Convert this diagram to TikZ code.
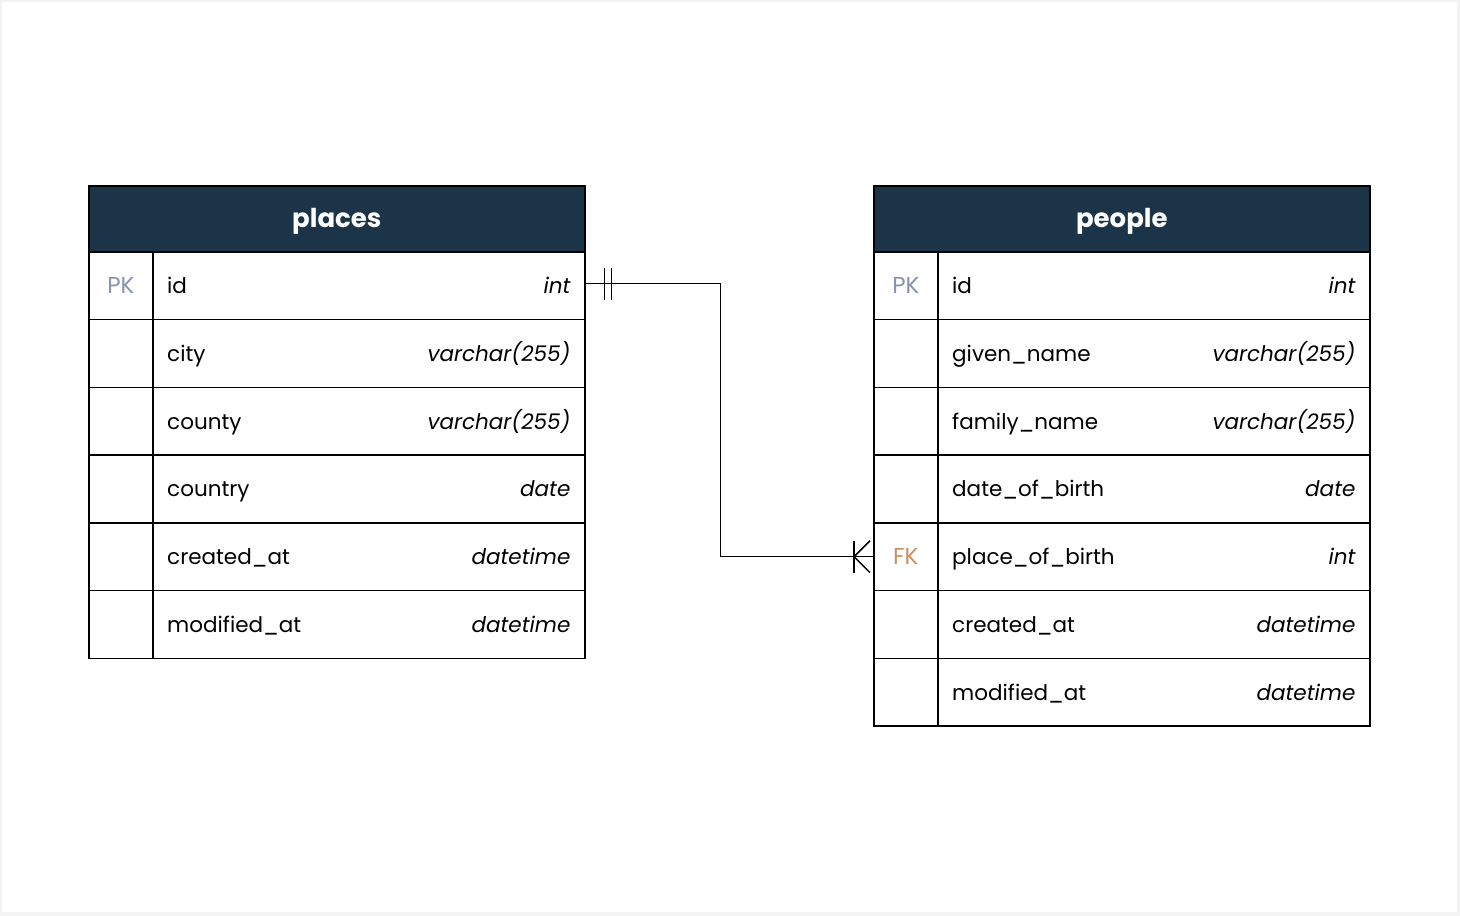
\documentclass[tikz,border=0pt]{standalone}
\usepackage{fontspec}
\setmainfont{Poppins}
\definecolor{hdrblue}{RGB}{27,52,71}
\definecolor{pkcol}{RGB}{136,146,178}
\definecolor{fkcol}{RGB}{204,146,92}
\definecolor{bggray}{RGB}{243,243,243}
\tikzset{
  x=1pt, y=-1pt,
  tbl/.style={draw=black, line width=1.6pt},
  hdr/.style={tbl, fill=hdrblue, minimum width=496pt, minimum height=66pt, inner sep=0pt, anchor=north west},
  hdrtxt/.style={inner sep=0pt, anchor=base, text=white, font=\fontsize{26}{30}\selectfont\bfseries},
  keycell/.style={tbl, minimum width=64pt, minimum height=67.75pt, inner sep=0pt, anchor=north west},
  keytxt/.style={inner sep=0pt, anchor=base, font=\fontsize{23}{27}\selectfont},
  namecell/.style={tbl, minimum width=432pt, minimum height=67.75pt, inner sep=0pt, anchor=north west},
  nametxt/.style={inner sep=0pt, anchor=base west, font=\fontsize{21.5}{25}\selectfont},
  typetxt/.style={inner sep=0pt, anchor=base east, font=\fontsize{21.5}{25}\selectfont\itshape},
  conn/.style={draw=black, line width=1.5pt},
}
\newcommand\erow[7]{%
  \pgfmathsetmacro\ytop{251+(#2-1)*67.75}
  \node[keycell] (#1k#2) at (#3,\ytop) {};
  \node[keytxt, text=#5] (#1kt#2) at ([yshift=-8pt]#1k#2.center) {#4};
  \node[namecell] (#1r#2) at (#3+64,\ytop) {};
  \node[nametxt] (#1n#2) at ([xshift=15pt,yshift=-8pt]#1r#2.west) {#6};
  \node[typetxt] (#1t#2) at ([xshift=-15pt,yshift=-8pt]#1r#2.east) {#7};
}
\begin{document}
\begin{tikzpicture}
\fill[bggray] (0,0) rectangle (1460,916);
\fill[white] (2,2) rectangle (1457,912);
\useasboundingbox (0,0) rectangle (1460,916);
% places
\node[hdr] (placesh) at (88,185) {};
\node[hdrtxt] (placest) at ([yshift=-9pt]placesh.center) {places};
\erow{pl}{1}{88}{PK}{pkcol}{id}{int}
\erow{pl}{2}{88}{}{black}{city}{varchar(255)}
\erow{pl}{3}{88}{}{black}{county}{varchar(255)}
\erow{pl}{4}{88}{}{black}{country}{date}
\erow{pl}{5}{88}{}{black}{created\_at}{datetime}
\erow{pl}{6}{88}{}{black}{modified\_at}{datetime}
% people
\node[hdr] (peopleh) at (873,185) {};
\node[hdrtxt] (peoplet) at ([yshift=-9pt]peopleh.center) {people};
\erow{pe}{1}{873}{PK}{pkcol}{id}{int}
\erow{pe}{2}{873}{}{black}{given\_name}{varchar(255)}
\erow{pe}{3}{873}{}{black}{family\_name}{varchar(255)}
\erow{pe}{4}{873}{}{black}{date\_of\_birth}{date}
\erow{pe}{5}{873}{FK}{fkcol}{place\_of\_birth}{int}
\erow{pe}{6}{873}{}{black}{created\_at}{datetime}
\erow{pe}{7}{873}{}{black}{modified\_at}{datetime}
% connector
\coordinate (bend1) at ([xshift=135pt,yshift=2pt]plr1.east);
\draw[conn] ([yshift=2pt]plr1.east) -- (bend1) |- (pek5.west);
% one-and-only-one at places end
\draw[conn] ([xshift=19pt,yshift=18pt]plr1.east) -- ([xshift=19pt,yshift=-14pt]plr1.east);
\draw[conn] ([xshift=26pt,yshift=18pt]plr1.east) -- ([xshift=26pt,yshift=-14pt]plr1.east);
% one-or-many at people end
\draw[conn] ([xshift=-19pt,yshift=16pt]pek5.west) -- ([xshift=-19pt,yshift=-16pt]pek5.west);
\draw[conn] ([xshift=-3pt,yshift=16pt]pek5.west) -- ([xshift=-19pt]pek5.west) -- ([xshift=-3pt,yshift=-16pt]pek5.west);
\end{tikzpicture}
\end{document}
